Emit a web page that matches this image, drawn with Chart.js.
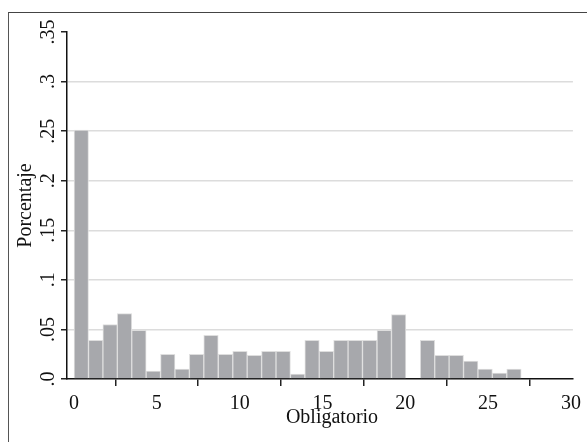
<!DOCTYPE html>
<html>
<head>
<meta charset="utf-8">
<script src="https://cdn.jsdelivr.net/npm/chart.js@4.4.1/dist/chart.umd.min.js"></script>
<style>
  html,body{margin:0;padding:0;background:#fff;overflow:hidden}
  #wrap{position:relative;width:587px;height:442px}
  #frame{position:absolute;left:8px;top:12px;width:600px;height:460px;border-left:1.5px solid #555;border-top:1.5px solid #444}
  #c{position:absolute;left:0;top:0}
</style>
</head>
<body>
<div id="wrap">
  <div id="frame"></div>
  <canvas id="c" width="587" height="442"></canvas>
</div>
<script>
/* histograma: Obligatorio */
const binCenters = [0.44,1.31,2.18,3.05,3.92,4.79,5.66,6.53,7.40,8.27,9.15,10.02,10.89,11.76,12.63,13.50,
                    14.37,15.24,16.11,16.98,17.85,18.73,19.60,20.47,21.34,22.21,23.08,23.95,24.82,25.69,26.56];
const porcentaje = [0.251,0.039,0.055,0.066,0.049,0.008,0.025,0.010,0.025,0.044,0.025,0.028,0.024,0.028,0.028,0.005,
                    0.039,0.028,0.039,0.039,0.039,0.049,0.065,0,0.039,0.024,0.024,0.018,0.010,0.006,0.010];
const xTicks = [0,5,10,15,20,25,30];
const yTicks = [0,0.05,0.1,0.15,0.2,0.25,0.3,0.35];
const yTickLabels = ['.0','.05','.1','.15','.2','.25','.3','.35'];
const xTitle = 'Obligatorio';

const FONT = '"Liberation Serif","DejaVu Serif",serif';

// etiquetas giradas del eje y + título del eje x (algo descentrado, como en el original)
const extraText = {
  id:'extraText',
  afterDraw(chart){
    const s = chart.scales.y, ctx = chart.ctx;
    ctx.save();
    ctx.fillStyle = '#111';
    ctx.font = '20px ' + FONT;
    ctx.textAlign = 'center';
    ctx.textBaseline = 'middle';
    yTicks.forEach((v,i)=>{
      ctx.save();
      ctx.translate(49, s.getPixelForValue(v));
      ctx.rotate(-Math.PI/2);
      ctx.fillText(yTickLabels[i], 0, 0);
      ctx.restore();
    });
    ctx.fillText(xTitle, 332, 418);
    ctx.restore();
  }
};

new Chart(document.getElementById('c'),{
  type:'bar',
  data:{datasets:[{
    data: binCenters.map((x,i)=>({x, y:porcentaje[i]})),
    backgroundColor:'#a7a8ac',
    borderColor:'#dedede',
    borderWidth:1,
    barPercentage:1,
    categoryPercentage:1
  }]},
  options:{
    responsive:false,
    animation:false,
    layout:{padding:{left:0,right:14,top:32,bottom:0}},
    plugins:{legend:{display:false},tooltip:{enabled:false}},
    scales:{
      x:{
        type:'linear', min:-0.4225, max:30.12, offset:false,
        afterBuildTicks:s=>{s.ticks = xTicks.map(v=>({value:v}));},
        afterFit:s=>{s.height = 63;},
        grid:{color:'rgba(0,0,0,0)', tickColor:'#222', tickLength:7, lineWidth:1.5, drawOnChartArea:false},
        border:{color:'#111', width:1.5},
        ticks:{color:'#111', font:{family:FONT,size:20}, padding:6, maxRotation:0, autoSkip:false}
      },
      y:{
        min:0, max:0.35,
        afterBuildTicks:s=>{s.ticks = yTicks.map(v=>({value:v}));},
        afterFit:s=>{s.width = 67;},
        grid:{
          color:c=>(c.tick && c.tick.value>0 && c.tick.value<0.34)?'#dcdcdc':'rgba(0,0,0,0)',
          tickColor:'#222', tickLength:6, lineWidth:1.5
        },
        border:{color:'#111', width:1.5},
        ticks:{display:false},
        title:{display:true, text:'Porcentaje', color:'#111', font:{family:FONT,size:20}, padding:{top:14,bottom:0}}
      }
    }
  },
  plugins:[extraText]
});
</script>
</body>
</html>
